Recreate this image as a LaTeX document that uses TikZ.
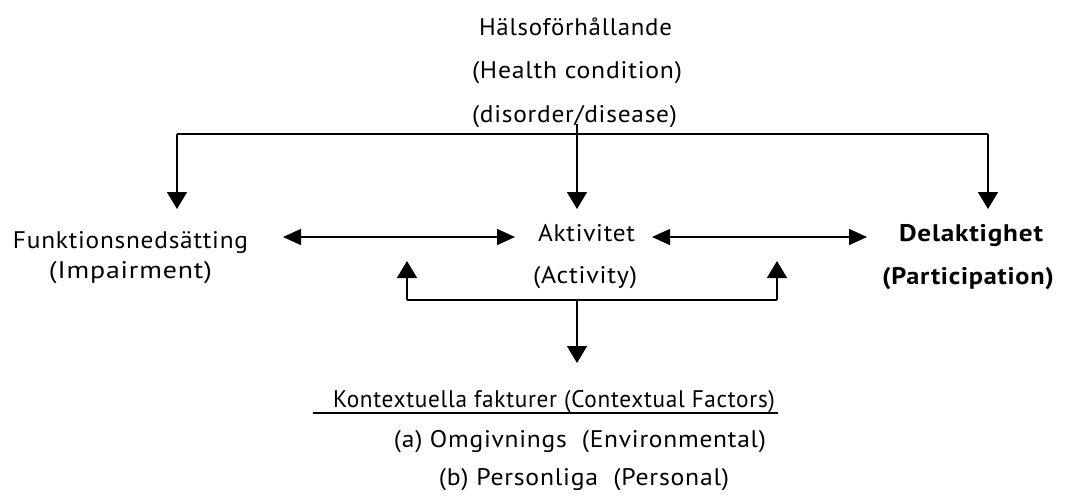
\documentclass[tikz,border=0pt]{standalone}
\usepackage{fontspec}
\setmainfont{PT Sans}[LetterSpace=3]
\usetikzlibrary{arrows.meta}
\newlength\px \setlength\px{0.75pt}
\newcommand{\fitw}[2]{\resizebox{#1\px}{\height}{#2}}
\begin{document}
\begin{tikzpicture}[x=0.75pt,y=-0.75pt,
  lbl/.style={inner sep=0pt,outer sep=0pt,anchor=base,font=\fontsize{18}{21}\selectfont},
  conn/.style={line width=1.1pt,black},
  vtip/.style={-{Triangle[width=15pt,length=12.75pt]}},
  htip/.style={{Triangle[width=12pt,length=13.5pt]}-{Triangle[width=12pt,length=13.5pt]}}]
\useasboundingbox (0,0) rectangle (1066,497);
\fill[white] (0,0) rectangle (1066,497);
% texts
\node[lbl] (h1) at (575.5,35) {\fitw{193}{Hälsoförhållande}};
\node[lbl] (h2) at (577,78) {\fitw{210}{(Health condition)}};
\node[lbl] (h3) at (574.5,122) {\fitw{205}{(disorder/disease)}};
\node[lbl] (f1) at (130.5,248) {\fitw{235}{Funktionsnedsätting}};
\node[lbl] (f2) at (130.5,278) {\fitw{163}{(Impairment)}};
\node[lbl] (a1) at (586.5,241) {\fitw{97}{Aktivitet}};
\node[lbl] (a2) at (585,283) {\fitw{104}{(Activity)}};
\node[lbl] (d1) at (971,241) {\fitw{144}{\bfseries Delaktighet}};
\node[lbl] (d2) at (968,284) {\fitw{172}{\bfseries (Participation)}};
\node[lbl] (k1) at (554,407) {\fitw{442}{Kontextuella fakturer (Contextual Factors)}};
\node[lbl] (k2) at (580,447) {\fitw{372}{(a) Omgivnings\ \ (Environmental)}};
\node[lbl] (k3) at (584,485) {\fitw{290}{(b) Personliga\ \ (Personal)}};
% junction coordinates
\coordinate (top) at (577,124);
\coordinate (tl) at (177,134);
\coordinate (tr) at (988,134);
\coordinate (fl) at (177,209);
\coordinate (am) at (577,209);
\coordinate (dr) at (988,209);
\coordinate (la) at (283,237);
\coordinate (lb) at (515,237);
\coordinate (ra) at (652,237);
\coordinate (rb) at (867,237);
\coordinate (bl) at (407,300);
\coordinate (br) at (777,300);
\coordinate (blt) at (407,261);
\coordinate (brt) at (777,261);
\coordinate (bm) at (577,300);
\coordinate (kt) at (577,363);
\coordinate (ul1) at (313,413);
\coordinate (ul2) at (778,413);
% connectors
\draw[conn] (tl) -- (tr);
\draw[conn,vtip] (tl) -- (fl);
\draw[conn,vtip] (top) -- (am);
\draw[conn,vtip] (tr) -- (dr);
\draw[conn,htip] (la) -- (lb);
\draw[conn,htip] (ra) -- (rb);
\draw[conn] (bl) -- (br);
\draw[conn,vtip] (bl) -- (blt);
\draw[conn,vtip] (br) -- (brt);
\draw[conn,vtip] (bm) -- (kt);
\draw[line width=0.9pt] (ul1) -- (ul2);
\end{tikzpicture}
\end{document}
